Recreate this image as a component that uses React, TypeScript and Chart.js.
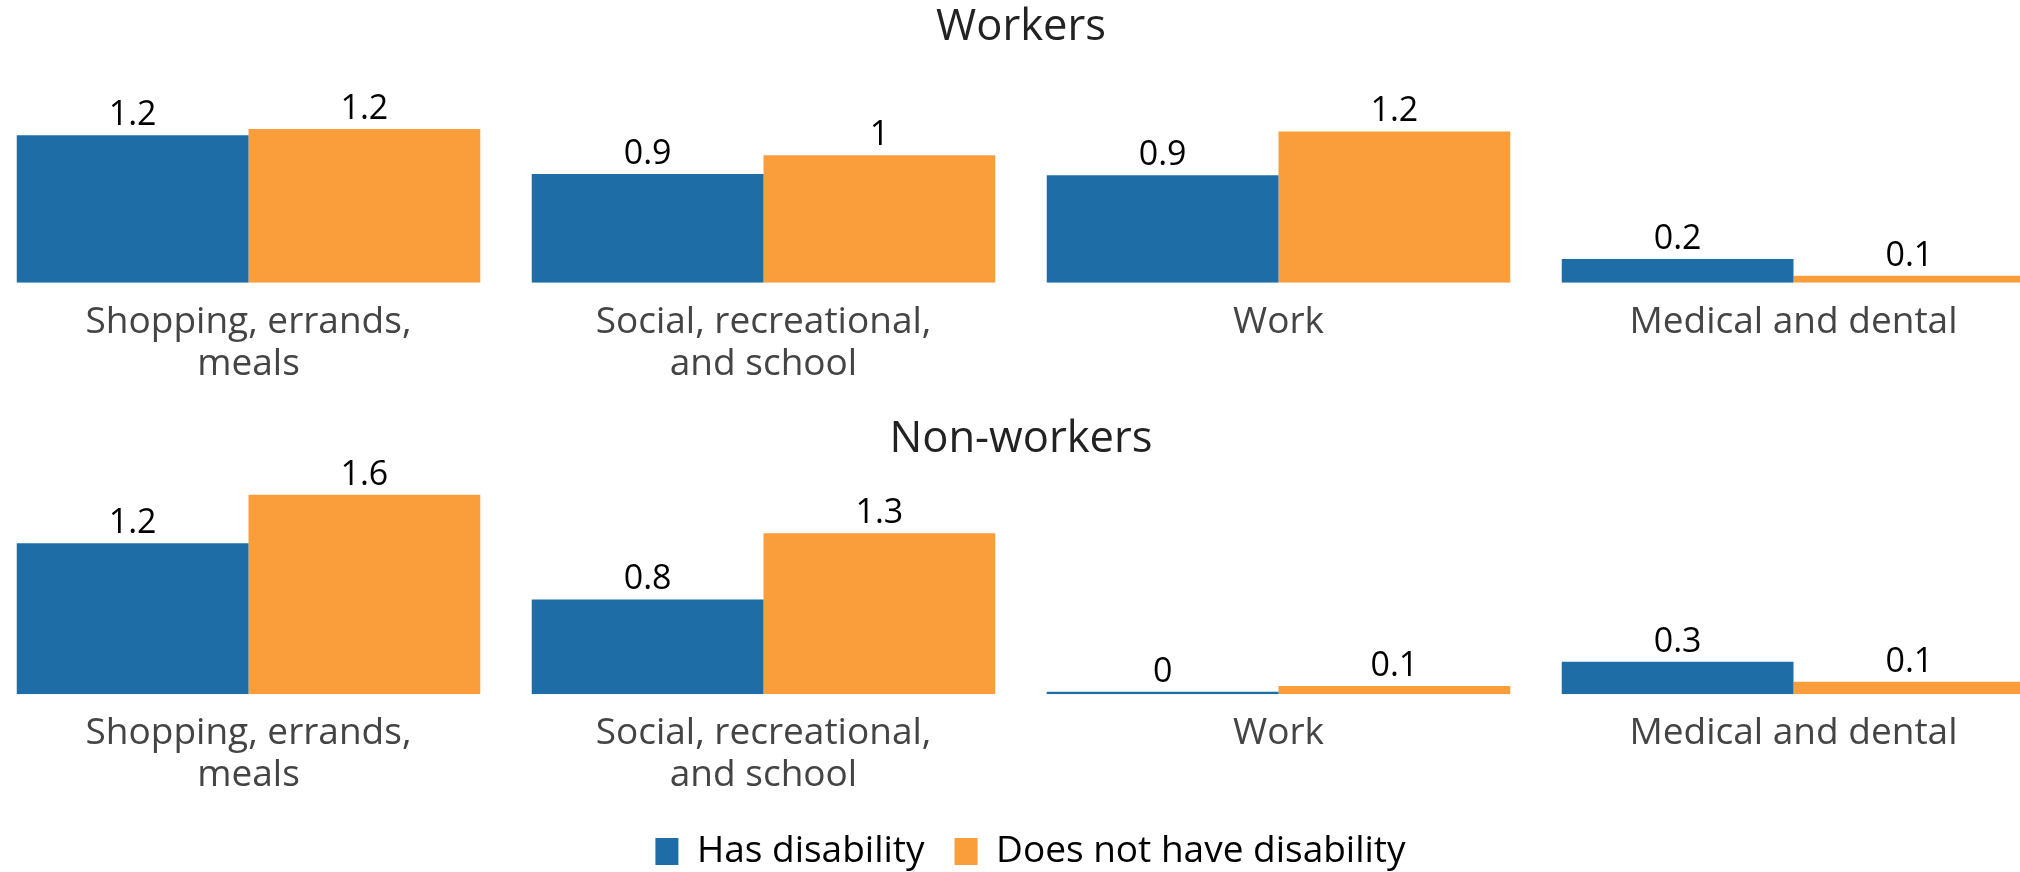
import React, { useEffect, useRef } from 'react';
import { Chart, registerables } from 'chart.js';

Chart.register(...registerables);

// ---------- data ----------
const CATEGORIES: (string | string[])[] = [
  ['Shopping, errands,', 'meals'],
  ['Social, recreational,', 'and school'],
  'Work',
  'Medical and dental',
];
const SERIES_NAMES = ['Has disability', 'Does not have disability'];
const PANEL_TITLES = ['Workers', 'Non-workers'];
const WORKERS_HAS = [1.18, 0.87, 0.86, 0.19];
const WORKERS_NOT = [1.23, 1.02, 1.21, 0.055];
const NONWORKERS_HAS = [1.21, 0.76, 0.02, 0.26];
const NONWORKERS_NOT = [1.6, 1.29, 0.066, 0.1];
const Y_MAX = 1.7;

// ---------- styles ----------
const COLORS = ['#1f6da6', '#f99e3a'];
const FONT_FAMILY = "'Open Sans', sans-serif";
Chart.defaults.font.family = FONT_FAMILY;

const fmt = (v: number) => String(Number(v.toFixed(1)));

const valueLabels = {
  id: 'valueLabels',
  afterDatasetsDraw(chart: any) {
    const ctx = chart.ctx;
    ctx.save();
    ctx.font = `34px ${FONT_FAMILY}`;
    ctx.fillStyle = '#000';
    ctx.textAlign = 'center';
    ctx.textBaseline = 'alphabetic';
    chart.data.datasets.forEach((ds: any, i: number) => {
      const meta = chart.getDatasetMeta(i);
      meta.data.forEach((bar: any, j: number) => {
        ctx.fillText(fmt(ds.data[j]), bar.x, bar.y - 10);
      });
    });
    ctx.restore();
  },
};

function makeConfig(title: string, hasVals: number[], notVals: number[], isBottom: boolean): any {
  return {
    type: 'bar',
    data: {
      labels: CATEGORIES,
      datasets: [
        {
          label: SERIES_NAMES[0],
          data: hasVals,
          backgroundColor: COLORS[0],
          borderWidth: 0,
          categoryPercentage: 0.9,
          barPercentage: 1,
        },
        {
          label: SERIES_NAMES[1],
          data: notVals,
          backgroundColor: COLORS[1],
          borderWidth: 0,
          categoryPercentage: 0.9,
          barPercentage: 1,
        },
      ],
    },
    options: {
      responsive: false,
      animation: false,
      layout: { padding: { left: 0, right: 0, top: 0, bottom: isBottom ? 0 : 8.3 } },
      plugins: {
        title: {
          display: true,
          text: title,
          color: '#222',
          fullSize: !isBottom,
          font: { size: 43.5, weight: 'normal', lineHeight: 1.2 },
          padding: { top: 1.6, bottom: 16.4 },
        },
        legend: isBottom
          ? {
              display: true,
              position: 'bottom',
              labels: {
                boxWidth: 23,
                boxHeight: 27,
                padding: 30,
                color: '#000',
                font: { size: 37 },
              },
            }
          : { display: false },
        tooltip: { enabled: false },
      },
      scales: {
        x: {
          grid: { display: false, drawTicks: false },
          border: { display: false },
          ticks: {
            color: '#444',
            font: { size: 37, lineHeight: 42 / 37 },
            padding: 18.5,
            maxRotation: 0,
            minRotation: 0,
            autoSkip: false,
          },
          afterFit: (s: any) => {
            if (isBottom) s.height -= 12.3;
          },
        },
        y: {
          display: isBottom,
          position: 'right',
          min: 0,
          max: Y_MAX,
          grid: { display: false, drawTicks: false },
          border: { display: false },
          ticks: { display: false },
          afterFit: (s: any) => {
            s.width = isBottom ? 19 : 0;
          },
        },
      },
    },
    plugins: [valueLabels],
  };
}

function BarRow(props: { config: any; left: number; top: number; width: number; height: number }) {
  const ref = useRef<HTMLCanvasElement | null>(null);
  useEffect(() => {
    const chart = new Chart(ref.current as HTMLCanvasElement, props.config);
    return () => chart.destroy();
  }, []);
  return (
    <canvas
      ref={ref}
      width={props.width}
      height={props.height}
      style={{
        position: 'absolute',
        left: props.left,
        top: props.top,
        width: props.width,
        height: props.height,
      }}
    />
  );
}

export default function App() {
  return (
    <div
      style={{
        position: 'fixed',
        left: 0,
        top: 0,
        width: 2020,
        height: 872,
        overflow: 'hidden',
        background: '#fff',
      }}
    >
      <BarRow
        config={makeConfig(PANEL_TITLES[0], WORKERS_HAS, WORKERS_NOT, false)}
        left={-9}
        top={0}
        width={2060}
        height={412}
      />
      <BarRow
        config={makeConfig(PANEL_TITLES[1], NONWORKERS_HAS, NONWORKERS_NOT, true)}
        left={-9}
        top={412}
        width={2079}
        height={468}
      />
    </div>
  );
}
